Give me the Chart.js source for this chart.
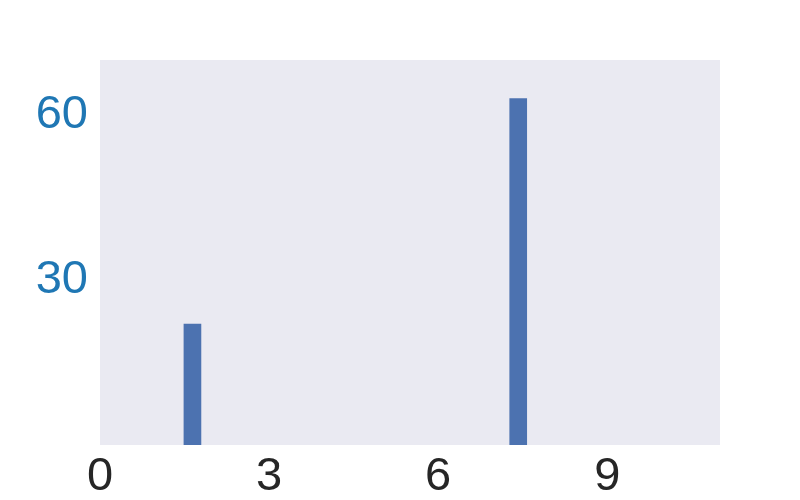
<!DOCTYPE html>
<html>
<head>
<meta charset="utf-8">
<script src="https://cdn.jsdelivr.net/npm/chart.js@4"></script>
<style>
  html, body { margin: 0; padding: 0; background: #ffffff; }
  #wrap { width: 800px; height: 500px; }
</style>
</head>
<body>
<div id="wrap"><canvas id="chart" width="800" height="500"></canvas></div>
<script>
// bar positions along x and their heights
const barX = [1.64, 7.42];
const barValues = [22, 63];
const xTicks = [0, 3, 6, 9];
const yTicks = [30, 60];

// paints the grey seaborn-style panel behind the bars
const panelBg = {
  id: 'panelBg',
  beforeDraw(chart) {
    const { ctx, chartArea: a } = chart;
    ctx.save();
    ctx.fillStyle = '#eaeaf2';
    ctx.fillRect(a.left, a.top, a.right - a.left, a.bottom - a.top);
    ctx.restore();
  }
};

const points = barX.map((x, i) => ({ x: x, y: barValues[i] }));

new Chart(document.getElementById('chart').getContext('2d'), {
  type: 'bar',
  data: {
    datasets: [{
      data: points,
      backgroundColor: '#4c72b0',
      borderWidth: 0,
      barThickness: 17
    }]
  },
  options: {
    responsive: false,
    animation: false,
    layout: { padding: { top: 60, right: 80, left: 0, bottom: 0 } },
    plugins: { legend: { display: false }, tooltip: { enabled: false } },
    scales: {
      x: {
        type: 'linear',
        offset: false,
        min: 0,
        max: 11,
        grid: { display: false, drawTicks: false },
        border: { display: false },
        afterBuildTicks: s => { s.ticks = xTicks.map(v => ({ value: v })); },
        afterFit: s => { s.height = 55; },
        ticks: {
          color: '#262626',
          padding: 4,
          maxRotation: 0,
          font: { family: 'Liberation Sans, Arial, sans-serif', size: 47 }
        }
      },
      y: {
        min: 0,
        max: 70,
        grid: { display: false, drawTicks: false },
        border: { display: false },
        afterBuildTicks: s => { s.ticks = yTicks.map(v => ({ value: v })); },
        afterFit: s => { s.width = 100; },
        ticks: {
          color: '#1f77b4',
          padding: 12,
          font: { family: 'Liberation Sans, Arial, sans-serif', size: 47 }
        }
      }
    }
  },
  plugins: [panelBg]
});
</script>
</body>
</html>
